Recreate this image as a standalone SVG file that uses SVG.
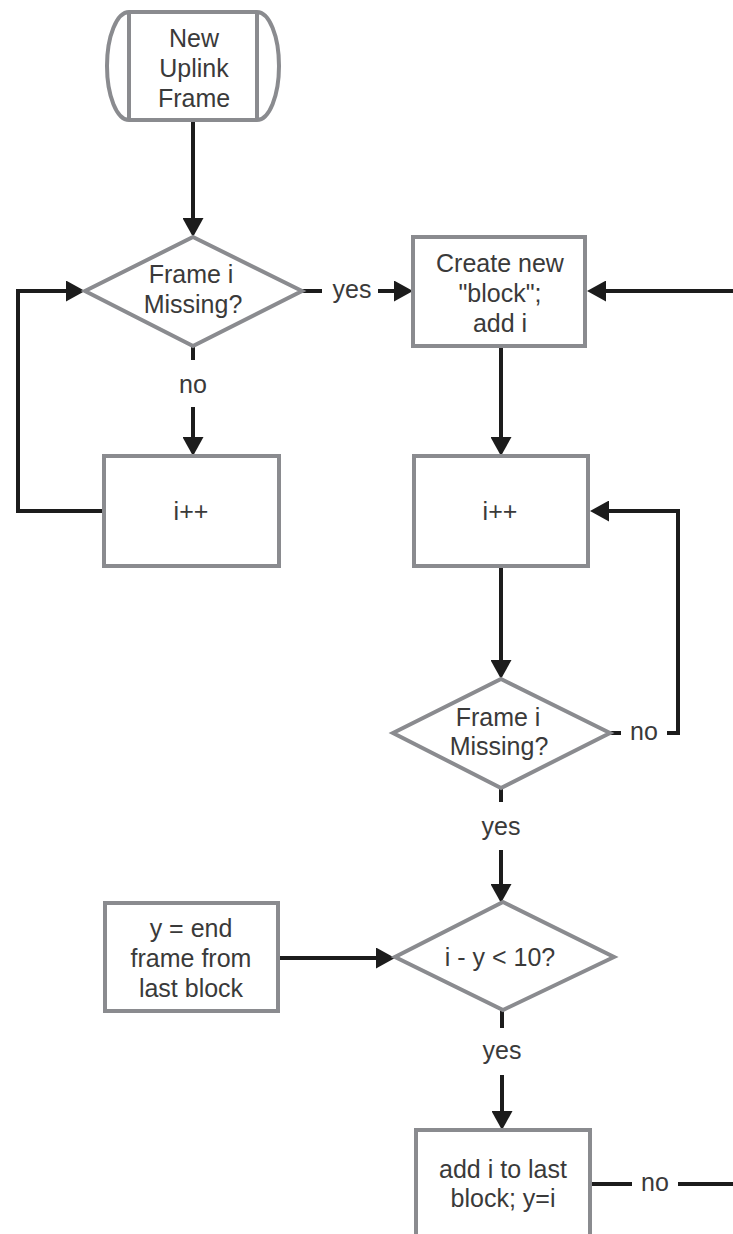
<svg xmlns="http://www.w3.org/2000/svg" width="733" height="1234" viewBox="0 0 733 1234">
<style>
.node{fill:#ffffff;stroke:#8a8b8f;stroke-width:4}
.edge{fill:none;stroke:#1c1c1c;stroke-width:4}
.lbl{font-family:"Liberation Sans",Arial,sans-serif;font-size:25px;fill:#3a3a3a;text-anchor:middle}
</style>
<defs>
<marker id="arr" markerUnits="userSpaceOnUse" markerWidth="19" markerHeight="21" refX="14" refY="10.5" orient="auto">
<path d="M0,0 L19,10.5 L0,21 Z" fill="#1c1c1c"/>
</marker>
</defs>
<rect width="733" height="1234" fill="#ffffff"/>

<g id="connectors">
<path class="edge" d="M193,120 V232" marker-end="url(#arr)"/>
<path class="edge" d="M302,291 H322"/>
<path class="edge" d="M378,291 H408" marker-end="url(#arr)"/>
<path class="edge" d="M193,346 V360"/>
<path class="edge" d="M193,407 V451" marker-end="url(#arr)"/>
<path class="edge" d="M104,511 H18 V291 H80" marker-end="url(#arr)"/>
<path class="edge" d="M733,291 H592" marker-end="url(#arr)"/>
<path class="edge" d="M501,346 V451" marker-end="url(#arr)"/>
<path class="edge" d="M501,566 V674" marker-end="url(#arr)"/>
<path class="edge" d="M610,733 H621"/>
<path class="edge" d="M667,733 H678 V511 H595" marker-end="url(#arr)"/>
<path class="edge" d="M501,788 V802"/>
<path class="edge" d="M501,850 V898" marker-end="url(#arr)"/>
<path class="edge" d="M278,958 H390" marker-end="url(#arr)"/>
<path class="edge" d="M502,1010 V1028"/>
<path class="edge" d="M502,1075 V1125" marker-end="url(#arr)"/>
<path class="edge" d="M590,1184 H632"/>
<path class="edge" d="M678,1184 H733"/>
<text class="lbl" x="352" y="298">yes</text>
<text class="lbl" x="193" y="393">no</text>
<text class="lbl" x="644" y="740">no</text>
<text class="lbl" x="501" y="835">yes</text>
<text class="lbl" x="502" y="1059">yes</text>
<text class="lbl" x="655" y="1191">no</text>
</g>

<g id="start">
<path class="node" d="M129,12 H257 A22,54 0 0 1 257,120 H129 A22,54 0 0 1 129,12 Z"/>
<path class="node" d="M129,12 V120 M257,12 V120"/>
<text class="lbl" x="194" y="47">New</text>
<text class="lbl" x="194" y="77">Uplink</text>
<text class="lbl" x="194" y="107">Frame</text>
</g>

<g id="missing1">
<polygon class="node" points="193,237 302,291 193,346 85,291"/>
<text class="lbl" x="191" y="283">Frame i</text>
<text class="lbl" x="193" y="313">Missing?</text>
</g>

<g id="inc1">
<rect class="node" x="104" y="456" width="175" height="110"/>
<text class="lbl" x="191" y="520">i++</text>
</g>

<g id="create">
<rect class="node" x="413" y="237" width="172" height="109"/>
<text class="lbl" x="500" y="272">Create new</text>
<text class="lbl" x="500" y="302">"block";</text>
<text class="lbl" x="500" y="332">add i</text>
</g>

<g id="inc2">
<rect class="node" x="414" y="456" width="174" height="110"/>
<text class="lbl" x="500" y="520">i++</text>
</g>

<g id="missing2">
<polygon class="node" points="501,679 610,733 501,788 393,733"/>
<text class="lbl" x="498" y="726">Frame i</text>
<text class="lbl" x="499" y="755">Missing?</text>
</g>

<g id="yend">
<rect class="node" x="105" y="903" width="173" height="108"/>
<text class="lbl" x="191" y="937">y = end</text>
<text class="lbl" x="191" y="967">frame from</text>
<text class="lbl" x="191" y="997">last block</text>
</g>

<g id="check">
<polygon class="node" points="503,902 614,957 503,1010 395,957"/>
<text class="lbl" x="500" y="966">i - y &lt; 10?</text>
</g>

<g id="addi">
<rect class="node" x="416" y="1130" width="174" height="140"/>
<text class="lbl" x="503" y="1178">add i to last</text>
<text class="lbl" x="503" y="1207">block; y=i</text>
</g>
</svg>
